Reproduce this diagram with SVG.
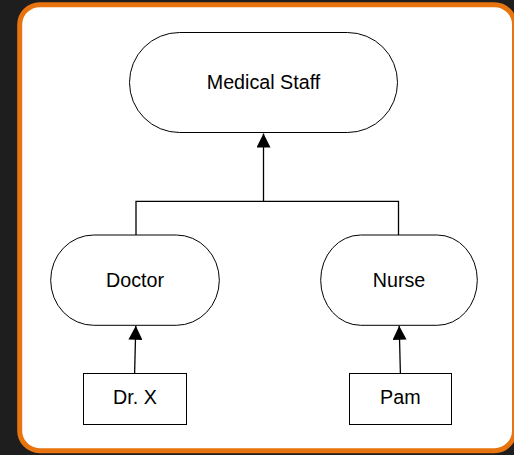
<svg xmlns="http://www.w3.org/2000/svg" width="514" height="455" viewBox="0 0 514 455">
<style>
.node{fill:#fff;stroke:#000;stroke-width:1}
.lbl{font-family:"Liberation Sans",Arial,sans-serif;font-size:19.7px;fill:#000;text-anchor:middle}
.conn{fill:none;stroke:#000;stroke-width:1.3}
</style>
<defs>
<marker id="arr" viewBox="0 0 14 14" refX="14" refY="7" markerWidth="14" markerHeight="14" markerUnits="userSpaceOnUse" orient="auto">
<path d="M0,0 L14,7 L0,14 Z" fill="#000"/>
</marker>
</defs>
<rect x="0" y="0" width="514" height="455" fill="#1e1e1e"/>
<rect x="19.7" y="4.7" width="494.8" height="446" rx="20" ry="20" fill="#fff" stroke="#e8740f" stroke-width="5"/>
<g id="connectors">
<path class="conn" d="M136,235 V201.3 H398.5 V235"/>
<path class="conn" d="M263.5,201.3 V133.5" marker-end="url(#arr)"/>
<path class="conn" d="M134.6,373.5 L135.8,325.8" marker-end="url(#arr)"/>
<path class="conn" d="M400.4,373.5 L399.2,325.8" marker-end="url(#arr)"/>
</g>
<g id="medical-staff">
<rect class="node" x="129.5" y="32.5" width="268" height="100" rx="50" ry="50"/>
<text class="lbl" x="263.5" y="89.2">Medical Staff</text>
</g>
<g id="doctor">
<rect class="node" x="50.7" y="235" width="168.6" height="90.3" rx="43" ry="45"/>
<text class="lbl" x="135" y="286.7">Doctor</text>
</g>
<g id="nurse">
<rect class="node" x="320.7" y="235" width="156.6" height="90.3" rx="40" ry="45"/>
<text class="lbl" x="399" y="286.7">Nurse</text>
</g>
<g id="drx">
<rect class="node" x="83.5" y="373.5" width="103" height="51"/>
<text class="lbl" x="135" y="404.4">Dr. X</text>
</g>
<g id="pam">
<rect class="node" x="349.5" y="373.5" width="102" height="51"/>
<text class="lbl" x="400.3" y="404.4">Pam</text>
</g>
</svg>
